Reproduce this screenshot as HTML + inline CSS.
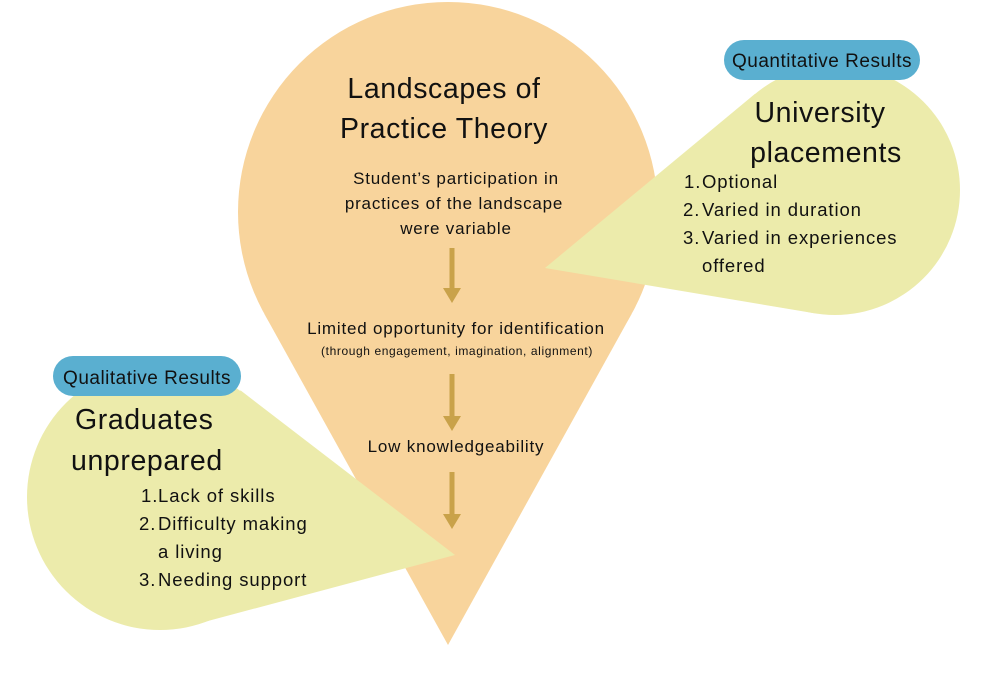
<!DOCTYPE html>
<html><head><meta charset="utf-8"><style>
html,body{margin:0;padding:0;background:#fff;}
svg{display:block}
text{font-family:"Liberation Sans",sans-serif;fill:#111;}
.b{font-size:17px;letter-spacing:0.8px}
.l{font-size:18.5px;letter-spacing:0.9px}
.t{font-size:28.5px;letter-spacing:0.6px}
.p{font-size:19px;letter-spacing:0.5px}
</style></head><body>
<svg width="1000" height="695" viewBox="0 0 1000 695">
<circle cx="448" cy="212" r="210" fill="#f8d49c"/>
<polygon points="448,645 631.7,313.8 264.3,313.8" fill="#f8d49c"/>
<circle cx="835" cy="190" r="125" fill="#ecebab"/>
<polygon points="545,268 814.4,313.3 755.1,93.8" fill="#ecebab"/>
<circle cx="160" cy="497" r="133" fill="#ecebab"/>
<polygon points="455,555 240.4,390.3 193,625" fill="#ecebab"/>
<rect x="724" y="40" width="196" height="40" rx="20" fill="#5aafd0"/>
<text x="822" y="67" class="p" text-anchor="middle">Quantitative Results</text>
<rect x="53" y="356" width="188" height="40" rx="20" fill="#5aafd0"/>
<text x="147" y="384" class="p" text-anchor="middle">Qualitative Results</text>
<text x="444" y="98" class="t" text-anchor="middle">Landscapes of</text>
<text x="444" y="138" class="t" text-anchor="middle">Practice Theory</text>
<text x="456" y="184" class="b" text-anchor="middle">Student’s participation in</text>
<text x="454" y="209" class="b" text-anchor="middle">practices of the landscape</text>
<text x="456" y="234" class="b" text-anchor="middle">were variable</text>
<text x="456" y="334" class="b" text-anchor="middle">Limited opportunity for identification</text>
<text x="457" y="355" font-size="12" letter-spacing="0.6" text-anchor="middle">(through engagement, imagination, alignment)</text>
<text x="456" y="452" class="b" text-anchor="middle">Low knowledgeability</text>
<g fill="#c9a24a" stroke="none">
<rect x="449.5" y="248" width="5" height="42"/><polygon points="443,288 461,288 452,303"/>
<rect x="449.5" y="374" width="5" height="44"/><polygon points="443,416 461,416 452,431"/>
<rect x="449.5" y="472" width="5" height="44"/><polygon points="443,514 461,514 452,529"/>
</g>
<text x="820" y="122" class="t" text-anchor="middle">University</text>
<text x="826" y="162" class="t" text-anchor="middle">placements</text>
<g class="l">
<text x="684" y="188">1.</text><text x="702" y="188">Optional</text>
<text x="683" y="216">2.</text><text x="702" y="216">Varied in duration</text>
<text x="683" y="244">3.</text><text x="702" y="244">Varied in experiences</text>
<text x="702" y="272">offered</text>
</g>
<text x="75" y="429" class="t">Graduates</text>
<text x="71" y="470" class="t">unprepared</text>
<g class="l">
<text x="141" y="502">1.</text><text x="158" y="502">Lack of skills</text>
<text x="139" y="530">2.</text><text x="158" y="530">Difficulty making</text>
<text x="158" y="558">a living</text>
<text x="139" y="586">3.</text><text x="158" y="586">Needing support</text>
</g>
</svg>
</body></html>
